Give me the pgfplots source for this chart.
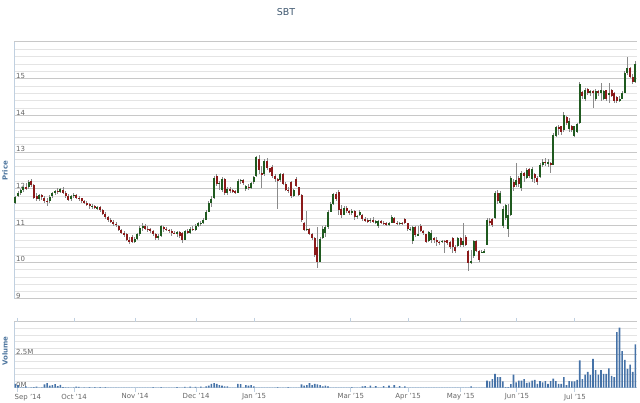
\documentclass[border=0pt]{standalone}
\usepackage{fontspec}
\setmainfont{DejaVu Sans}
\usepackage{pgfplots}
\usepackage{pgfplotstable}
\pgfplotsset{compat=1.18}

\definecolor{upc}{HTML}{1F5A1F}
\definecolor{dnc}{HTML}{8B1A1A}
\definecolor{wickc}{HTML}{8A8A8A}
\definecolor{volc}{HTML}{4572A7}
\definecolor{titlec}{HTML}{3E576F}
\definecolor{axtitle}{HTML}{4D759E}
\definecolor{labc}{HTML}{666666}
\definecolor{axline}{HTML}{C0D0E0}
\definecolor{majg}{HTML}{C8C8C8}
\definecolor{ming}{HTML}{E4E4E4}

% i = trading day, o h l c = price, v = volume in millions
\pgfplotstableread{
i o h l c v
0 11.62 11.80 11.58 11.78 0.30
1 11.80 11.95 11.78 11.90 0.20
2 11.88 12.00 11.82 11.98 0.02
3 11.98 12.10 11.92 12.05 0.02
4 12.05 12.15 11.98 12.02 0.10
5 12.05 12.25 12.00 12.18 0
6 12.22 12.28 12.05 12.10 0.02
7 12.10 12.12 11.72 11.76 0.05
8 11.80 11.88 11.68 11.72 0.08
9 11.72 11.86 11.66 11.82 0
10 11.82 11.86 11.70 11.78 0.02
11 11.76 11.80 11.62 11.68 0.25
12 11.68 11.74 11.54 11.64 0.35
13 11.66 11.82 11.62 11.78 0.15
14 11.80 11.92 11.76 11.90 0.20
15 11.90 11.98 11.84 11.94 0.28
16 11.94 12.02 11.86 11.92 0.12
17 11.92 12.02 11.88 12.00 0.22
18 11.98 12.04 11.86 11.90 0.05
19 11.90 11.94 11.76 11.80 0.02
20 11.80 11.86 11.66 11.70 0.02
21 11.72 11.84 11.68 11.80 0
22 11.80 11.90 11.74 11.84 0.02
23 11.82 11.86 11.72 11.76 0.08
24 11.76 11.80 11.68 11.74 0.06
25 11.74 11.76 11.62 11.66 0
26 11.66 11.70 11.58 11.62 0.02
27 11.62 11.66 11.52 11.58 0
28 11.58 11.62 11.46 11.52 0.05
29 11.52 11.58 11.44 11.54 0
30 11.54 11.56 11.44 11.48 0.05
31 11.48 11.54 11.42 11.50 0
32 11.50 11.52 11.38 11.42 0.05
33 11.42 11.46 11.28 11.32 0
34 11.32 11.36 11.18 11.22 0.05
35 11.22 11.26 11.10 11.14 0
36 11.14 11.20 11.06 11.10 0
37 11.10 11.14 10.98 11.04 0
38 11.04 11.10 10.96 11.02 0
39 11.00 11.02 10.84 10.88 0
40 10.88 10.92 10.76 10.80 0
41 10.80 10.86 10.70 10.76 0
42 10.76 10.80 10.58 10.62 0
43 10.62 10.70 10.50 10.54 0
44 10.70 10.74 10.52 10.56 0
45 10.56 10.68 10.52 10.64 0
46 10.64 10.80 10.60 10.76 0
47 10.76 11.00 10.72 10.94 0
48 10.94 11.06 10.86 11.00 0
49 11.00 11.04 10.88 10.92 0
50 10.92 10.98 10.82 10.90 0
51 10.90 10.94 10.80 10.84 0
52 10.84 10.88 10.72 10.76 0.05
53 10.76 10.80 10.60 10.66 0
54 10.66 10.76 10.62 10.72 0
55 10.72 11.02 10.70 10.98 0.05
56 10.96 11.00 10.82 10.92 0
57 10.92 10.96 10.84 10.88 0
58 10.88 10.92 10.80 10.86 0
59 10.86 10.90 10.72 10.80 0
60 10.80 10.86 10.76 10.78 0
61 10.80 10.86 10.70 10.82 0.05
62 10.82 10.84 10.66 10.72 0
63 10.80 10.82 10.52 10.60 0
64 10.62 10.88 10.60 10.84 0.06
65 10.84 10.90 10.76 10.80 0
66 10.80 10.96 10.78 10.92 0.08
67 10.92 10.98 10.84 10.88 0
68 10.88 11.04 10.86 11.00 0.06
69 11.00 11.10 10.96 11.06 0
70 11.06 11.12 11.00 11.08 0.08
71 11.08 11.20 11.04 11.16 0
72 11.16 11.42 11.14 11.38 0.10
73 11.38 11.66 11.36 11.62 0.15
74 11.62 11.80 11.50 11.72 0.30
75 11.74 12.36 11.72 12.30 0.35
76 12.34 12.40 12.08 12.14 0.30
77 12.14 12.22 11.98 12.16 0.20
78 11.96 12.32 11.92 12.28 0.15
79 12.28 12.30 11.84 11.88 0.10
80 11.90 12.06 11.84 12.00 0.10
81 12.00 12.04 11.90 11.96 0
82 11.96 12.00 11.88 11.94 0
83 11.94 11.98 11.86 11.90 0
84 11.90 12.26 11.88 12.22 0.30
85 12.22 12.28 12.14 12.24 0.28
86 12.24 12.28 12.10 12.16 0
87 12.00 12.10 11.94 12.08 0.20
88 12.06 12.14 11.98 12.02 0.15
89 12.02 12.20 12.00 12.16 0.20
90 12.18 12.36 12.14 12.32 0.10
91 12.34 12.90 12.32 12.86 0
92 12.80 12.92 12.40 12.50 0
93 12.42 12.62 12.02 12.40 0
94 12.40 12.80 12.36 12.76 0
95 12.76 12.84 12.50 12.56 0
96 12.56 12.58 12.42 12.46 0
97 12.60 12.64 12.30 12.36 0
98 12.36 12.40 12.20 12.26 0
99 12.26 12.30 11.46 12.24 0.05
100 12.24 12.44 12.20 12.40 0
101 12.40 12.42 12.10 12.14 0
102 12.14 12.18 11.94 11.98 0
103 11.98 12.04 11.90 11.96 0.05
104 12.20 12.22 11.74 11.80 0
105 11.80 12.00 11.78 11.96 0
106 12.28 12.32 12.04 12.08 0
107 12.04 12.06 11.80 11.84 0
108 11.84 11.86 11.10 11.16 0.25
109 11.06 11.10 10.84 10.88 0.15
110 10.88 11.40 10.86 10.92 0.20
111 10.92 10.94 10.74 10.78 0.35
112 10.76 10.80 10.60 10.66 0.20
113 10.66 10.70 10.14 10.20 0.30
114 10.42 10.96 9.84 10.02 0.25
115 10.02 10.70 10.00 10.64 0.20
116 10.66 10.98 10.64 10.92 0.10
117 10.80 11.02 10.70 10.96 0.15
118 10.96 11.42 10.90 11.38 0.10
119 11.38 11.64 11.36 11.60 0
120 11.60 11.90 11.56 11.86 0
121 11.86 11.92 11.66 11.72 0
122 11.92 11.96 11.30 11.42 0
123 11.44 11.56 11.20 11.30 0
124 11.30 11.52 11.28 11.48 0
125 11.48 11.52 11.34 11.40 0
126 11.40 11.42 11.28 11.34 0
127 11.34 11.44 11.30 11.40 0.05
128 11.40 11.42 11.16 11.24 0
129 11.24 11.30 11.18 11.26 0
130 11.28 11.42 11.26 11.38 0
131 11.30 11.32 11.12 11.18 0.10
132 11.18 11.22 11.10 11.14 0.12
133 11.14 11.20 11.08 11.12 0
134 11.12 11.20 11.06 11.16 0.15
135 11.16 11.24 11.06 11.10 0
136 11.10 11.14 11.04 11.12 0.12
137 10.98 11.16 10.94 11.12 0
138 11.12 11.14 11.04 11.08 0
139 11.08 11.12 11.02 11.06 0.12
140 11.06 11.10 11.00 11.04 0
141 11.04 11.10 11.00 11.06 0.15
142 11.08 11.30 11.06 11.24 0
143 11.20 11.22 11.06 11.08 0.20
144 11.08 11.12 11.02 11.06 0
145 11.06 11.10 11.02 11.08 0.12
146 11.08 11.10 11.02 11.06 0
147 11.18 11.20 11.04 11.06 0.10
148 11.06 11.08 10.86 10.90 0
149 10.90 10.96 10.86 10.92 0
150 10.58 11.00 10.50 10.96 0
151 10.96 10.98 10.70 10.74 0
152 10.74 11.00 10.72 10.76 0
153 11.00 11.04 10.82 10.86 0
154 10.86 10.88 10.74 10.80 0
155 10.76 10.78 10.52 10.56 0
156 10.58 10.86 10.54 10.82 0
157 10.60 10.88 10.52 10.80 0
158 10.66 10.70 10.52 10.62 0
159 10.62 10.70 10.44 10.56 0
160 10.56 10.58 10.48 10.54 0
161 10.56 10.60 10.52 10.58 0
162 10.58 10.62 10.26 10.56 0
163 10.60 10.62 10.48 10.52 0
164 10.54 10.58 10.36 10.42 0
165 10.66 10.70 10.24 10.42 0
166 10.42 10.46 10.24 10.30 0
167 10.44 10.70 10.42 10.66 0
168 10.66 10.70 10.42 10.46 0
169 10.46 11.06 10.42 10.58 0
170 10.70 10.74 10.44 10.48 0
171 10.30 10.34 9.76 9.98 0
172 9.98 10.34 9.96 10.04 0.10
173 10.16 10.62 10.12 10.58 0
174 10.58 10.60 10.28 10.32 0
175 10.30 10.34 10.00 10.06 0
176 10.26 10.34 10.24 10.28 0
177 10.28 10.36 10.24 10.30 0
178 10.48 11.20 10.46 11.14 0.54
179 11.12 11.20 11.00 11.06 0.48
180 11.18 11.20 10.96 11.02 0.66
181 11.20 11.94 11.18 11.90 1.05
182 11.90 11.98 11.60 11.66 0.80
183 11.62 11.94 11.60 11.88 0.80
184 11.00 11.52 10.94 11.46 0.48
185 11.20 11.60 11.14 11.56 0.05
186 10.90 11.60 10.70 11.30 0.05
187 11.30 12.34 11.26 12.30 0.28
188 12.20 12.26 11.94 12.04 1.00
189 12.10 12.70 12.06 12.24 0.40
190 12.30 12.34 12.06 12.12 0.54
191 12.02 12.48 11.94 12.42 0.54
192 12.42 12.46 12.20 12.36 0.66
193 12.30 12.56 12.26 12.52 0.36
194 12.54 12.56 12.30 12.36 0.40
195 12.26 12.60 12.20 12.54 0.54
196 12.40 12.42 12.16 12.30 0.59
197 12.30 12.34 12.10 12.20 0.30
198 12.32 12.70 12.30 12.66 0.50
199 12.66 12.80 12.60 12.74 0.40
200 12.74 12.84 12.62 12.70 0.50
201 12.70 12.80 12.60 12.72 0.30
202 12.70 12.72 12.44 12.66 0.50
203 12.66 13.52 12.64 13.48 0.70
204 13.44 13.72 13.40 13.68 0.50
205 13.68 13.74 13.46 13.66 0.30
206 13.70 13.72 13.46 13.54 0.30
207 13.60 14.10 13.56 14.02 0.80
208 13.96 13.98 13.74 13.80 0.20
209 13.62 13.94 13.56 13.86 0.50
210 13.72 13.74 13.56 13.60 0.48
211 13.44 13.72 13.40 13.70 0.48
212 13.56 13.80 13.52 13.76 0.60
213 13.80 14.90 13.78 14.86 2.07
214 14.64 14.66 14.46 14.52 0.66
215 14.46 14.76 14.38 14.70 1.00
216 14.72 14.74 14.56 14.60 1.20
217 14.62 14.70 14.52 14.66 0.97
218 14.66 14.70 14.20 14.62 2.20
219 14.46 14.72 14.40 14.66 1.33
220 14.66 14.70 14.52 14.62 1.00
221 14.62 14.88 14.40 14.68 1.33
222 14.44 14.70 14.42 14.66 1.05
223 14.68 14.70 14.38 14.44 1.05
224 14.56 14.88 14.34 14.62 1.48
225 14.70 14.72 14.50 14.54 0.90
226 14.60 14.64 14.34 14.40 0.80
227 14.50 14.52 14.34 14.38 4.23
228 14.40 14.52 14.36 14.46 4.57
229 14.46 14.66 14.44 14.62 2.78
230 14.62 15.20 14.60 15.16 2.12
231 15.16 15.60 15.10 15.30 1.43
232 15.30 15.32 15.02 15.06 1.76
233 15.06 15.14 14.86 14.92 1.20
234 14.92 15.48 14.88 15.40 3.30
}\sbt

\pgfplotsset{
  panel/.style={
    scale only axis, width=623bp, xmin=-0.5, xmax=234.6,
    axis line style={draw=none},
    ymajorgrids, yminorgrids, minor y tick num=4,
    major grid style={draw=majg, line width=1bp},
    minor grid style={draw=ming, line width=0.8bp},
    major tick length=4bp, minor tick length=0pt,
    ytick style={draw=none},
    tick label style={font=\fontsize{7}{8}\selectfont, text=labc},
    yticklabel style={anchor=south west, xshift=1.5bp, yshift=-0.5bp, inner sep=0.5bp},
  },
  candle/.style 2 args={draw=none, mark=none, forget plot,
    error bars/.cd, y dir=both, y explicit, error mark=none,
    error bar style={draw=#1, line width=#2, solid}},
}

\begin{document}
\begin{tikzpicture}
\useasboundingbox (0,0) rectangle (640bp,403bp);

\node[text=titlec, font=\fontsize{9.5}{11}\selectfont] at (286bp,390.5bp) {SBT};
\node[text=axtitle, font=\bfseries\fontsize{7}{8}\selectfont, rotate=90] at (5bp,232bp) {Price};
\node[text=axtitle, font=\bfseries\fontsize{7}{8}\selectfont, rotate=90] at (5bp,52bp) {Volume};

% price panel
\begin{axis}[panel, at={(14bp,104bp)}, anchor=south west, height=257bp,
  ymin=9, ymax=16, ytick={9,10,...,16},
  yticklabels={9,10,11,12,13,14,15,{}},
  xtick=\empty]
\draw[axline, line width=1.5bp] (axis cs:-0.5,9) -- (axis cs:-0.5,16);
% wicks: high to low
\addplot[candle={wickc}{0.8bp}]
  table[x=i, y expr={(\thisrow{h}+\thisrow{l})/2}, y error expr={(\thisrow{h}-\thisrow{l})/2}] {\sbt};
% bodies: open to close, up days green, down days red
\addplot[candle={upc}{2bp}]
  table[x=i, y expr={\thisrow{c}>=\thisrow{o} ? (\thisrow{o}+\thisrow{c})/2 : nan},
        y error expr={abs(\thisrow{c}-\thisrow{o})/2}] {\sbt};
\addplot[candle={dnc}{2bp}]
  table[x=i, y expr={\thisrow{c}<\thisrow{o} ? (\thisrow{o}+\thisrow{c})/2 : nan},
        y error expr={abs(\thisrow{c}-\thisrow{o})/2}] {\sbt};
\end{axis}

% volume panel
\begin{axis}[panel, at={(14bp,15.3bp)}, anchor=south west, height=65.7bp,
  ymin=0, ymax=5, ytick={0,2.5,5}, yticklabels={0M,2.5M,{}},
  xtick={22.2,45.2,68.2,90.1,126.6,148.2,168.1,189.3,211.2},
  xticklabels={Oct '14,Nov '14,Dec '14,Jan '15,Mar '15,Apr '15,May '15,Jun '15,Jul '15},
  extra x ticks={1.0}, extra x tick labels={Sep '14},
  extra x tick style={xticklabel style={anchor=north west, xshift=-4.5bp}},
  xtick style={draw=axline, line width=1bp},
  xtick align=outside,
  xticklabel style={yshift=-1bp, inner sep=1bp},
  ybar, bar width=1.6bp, bar shift=0pt]
\draw[axline, line width=1.5bp] (axis cs:-0.5,0) -- (axis cs:-0.5,5);
\draw[axline, line width=1bp] (axis cs:-0.5,0) -- (axis cs:234.6,0);
\addplot[fill=volc, draw=none] table[x=i, y=v] {\sbt};
\end{axis}
\end{tikzpicture}
\end{document}
